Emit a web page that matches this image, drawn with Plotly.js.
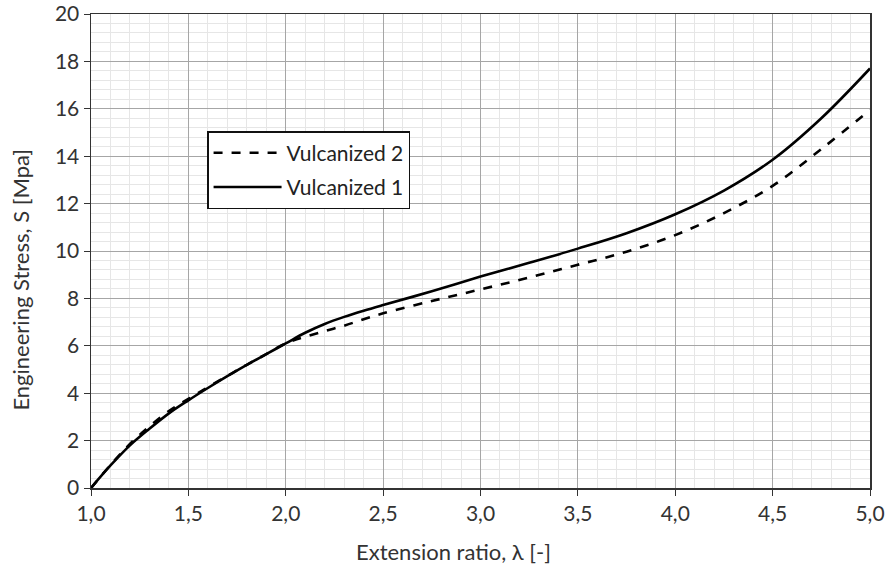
<!DOCTYPE html>
<html>
<head>
<meta charset="utf-8">
<script src="https://cdn.plot.ly/plotly-3.0.1.min.js"></script>
<style>html,body{margin:0;padding:0;background:#fff;}#chart{width:885px;height:574px;}</style>
</head>
<body>
<div id="chart"></div>
<script>
const lambda = [1.0,1.1,1.2,1.3,1.4,1.5,1.6,1.7,1.8,1.9,2.0,2.1,2.2,2.3,2.4,2.5,2.75,3.0,3.25,3.5,3.75,4.0,4.25,4.5,4.75,5.0];
const vulcanized1 = [0,0.95,1.8,2.5,3.15,3.7,4.22,4.72,5.2,5.65,6.1,6.55,6.92,7.22,7.48,7.72,8.3,8.92,9.5,10.1,10.75,11.55,12.55,13.85,15.6,17.7];
const vulcanized2 = [0,0.97,1.86,2.6,3.25,3.76,4.25,4.73,5.2,5.65,6.1,6.38,6.62,6.85,7.12,7.37,7.89,8.38,8.88,9.42,9.97,10.67,11.6,12.75,14.3,15.95];
const names = ["Vulcanized 2","Vulcanized 1"];
const xTitle = "Extension ratio, λ [-]";
const yTitle = "Engineering Stress, S [Mpa]";

const font = "Lato, 'Open Sans', sans-serif";
const traces = [
  {x: lambda, y: vulcanized2, name: names[0], legendgroup: "a", mode: "lines", line: {color: "#000", width: 2.6, dash: "dash", shape: "spline", smoothing: 1}},
  {x: lambda, y: vulcanized1, name: names[1], legendgroup: "b", mode: "lines", line: {color: "#000", width: 2.6, shape: "spline", smoothing: 1}}
];
const layout = {
  width: 885, height: 574,
  margin: {l: 91, r: 15, t: 14, b: 86},
  paper_bgcolor: "#fff", plot_bgcolor: "#fff",
  separators: ",.",
  font: {family: font, size: 21, color: "#333"},
  showlegend: true,
  legend: {x: 0.149, y: 0.753, xanchor: "left", yanchor: "top", bgcolor: "#fff", bordercolor: "#111", borderwidth: 1.5,
           font: {size: 21, color: "#222"}, traceorder: "grouped", tracegroupgap: 4, itemwidth: 68},
  xaxis: {
    range: [1, 5], dtick: 0.5, tick0: 1, tickformat: ".1f",
    showgrid: true, gridcolor: "#a6a6a6", gridwidth: 1,
    minor: {dtick: 0.1, tick0: 1, showgrid: true, gridcolor: "#e6e6e6", gridwidth: 1},
    ticks: "outside", ticklen: 6, tickcolor: "#333",
    showline: true, linecolor: "#333", linewidth: 1.5, mirror: true,
    zeroline: false,
    tickfont: {size: 21, color: "#333"}
  },
  yaxis: {
    range: [0, 20], dtick: 2, tick0: 0,
    showgrid: true, gridcolor: "#a6a6a6", gridwidth: 1,
    minor: {dtick: 0.4, tick0: 0, showgrid: true, gridcolor: "#e6e6e6", gridwidth: 1},
    ticks: "outside", ticklen: 6, tickcolor: "#333",
    showline: true, linecolor: "#333", linewidth: 1.5, mirror: true,
    zeroline: false,
    tickfont: {size: 21, color: "#333"}
  },
  annotations: [
    {text: xTitle, xref: "paper", yref: "paper", x: 0.465, y: -0.135, xanchor: "center", yanchor: "middle", showarrow: false, font: {size: 22, color: "#333"}},
    {text: yTitle, xref: "paper", yref: "paper", x: -0.091, y: 0.44, xanchor: "center", yanchor: "middle", textangle: -90, showarrow: false, font: {size: 22, color: "#333"}}
  ]
};
Plotly.newPlot("chart", traces, layout, {displayModeBar: false, staticPlot: true});
</script>
</body>
</html>
